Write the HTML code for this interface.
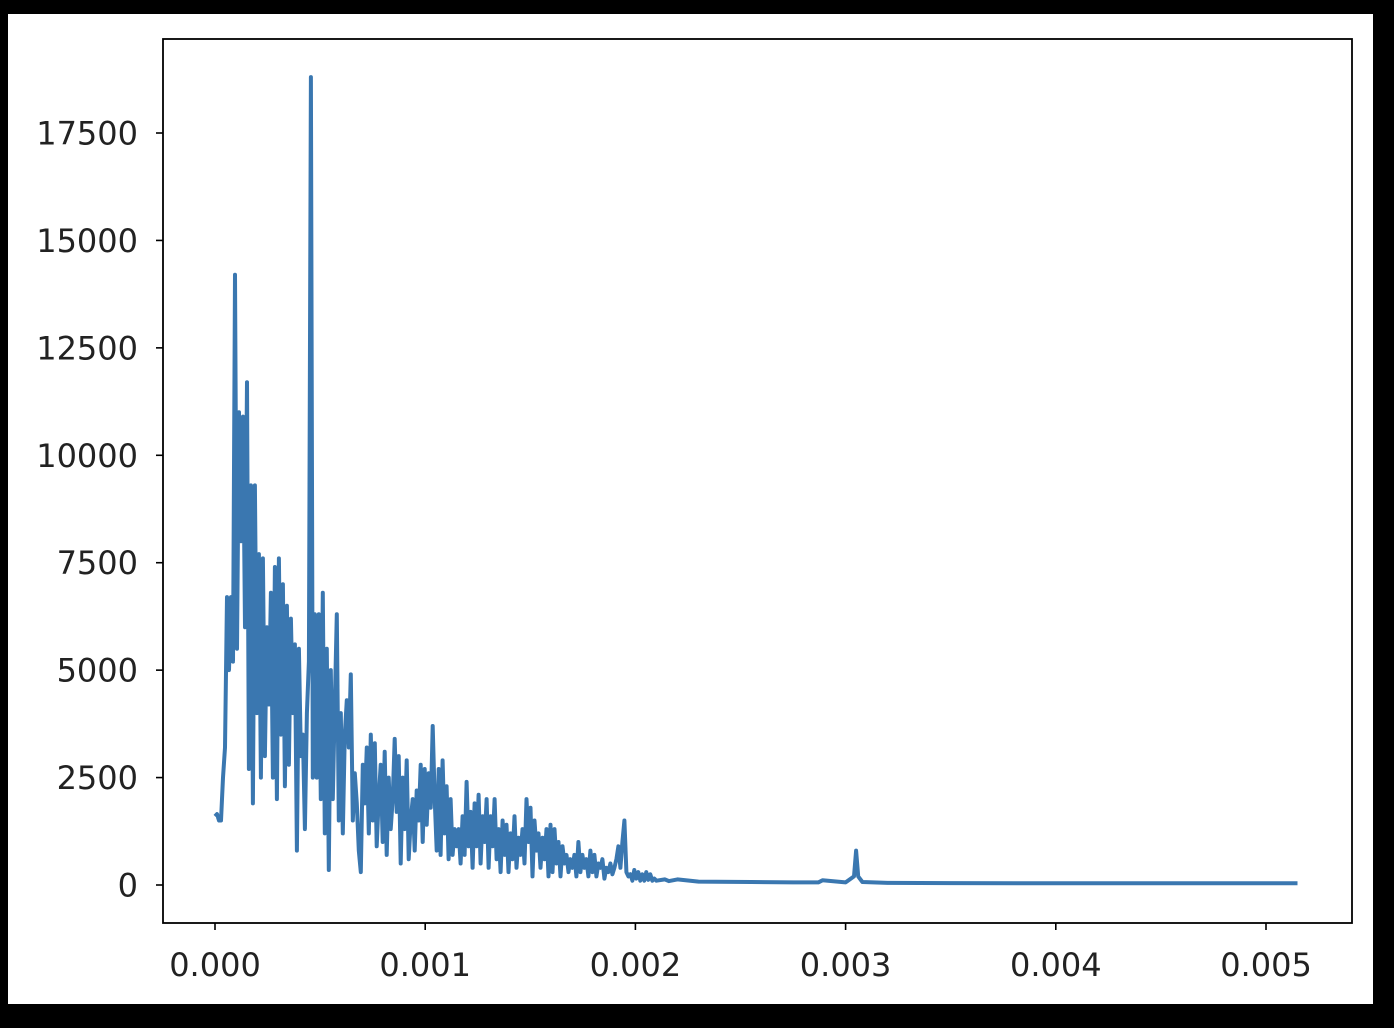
<!DOCTYPE html>
<html><head><meta charset="utf-8"><style>
html,body{margin:0;padding:0;background:#000;}
svg{display:block;}
svg text{font-family:"DejaVu Sans","Liberation Sans",sans-serif;font-size:32px;fill:#222;}
</style></head><body>
<svg id="chart" width="1394" height="1028" viewBox="0 0 1394 1028">
<rect x="8" y="14" width="1365" height="990" fill="#fff"/>
<rect x="163" y="39" width="1189" height="884" fill="#fff"/>
<g id="series"></g>
<rect x="163" y="39" width="1189" height="884" fill="none" stroke="#000" stroke-width="1.8"/>
<g id="xaxis"></g>
<g id="yaxis"></g>
</svg>
<script>
const xTicks = [0, 0.001, 0.002, 0.003, 0.004, 0.005];
const xTickLabels = ["0.000","0.001","0.002","0.003","0.004","0.005"];
const yTicks = [0, 2500, 5000, 7500, 10000, 12500, 15000, 17500];
const yTickLabels = ["0","2500","5000","7500","10000","12500","15000","17500"];
const gridStep = 0.0000095;
const gridValues = [1600,1650,1500,1500,2500,3200,6700,5000,6700,5200,14200,5500,11000,8000,10900,6000,11700,2700,9300,1900,
9300,4000,7700,2500,7600,3000,6000,4200,6800,2500,7400,2000,7600,3500,7000,2300,6500,2800,6200,4000,
5600,800,5500,3000,3500,1300,4000,5200,18800,2500,6300,2500,6300,2000,6800,1200,5500,350,5000,2000,
4200,6300,1500,4000,1200,3500,4300,3200,4900,1500,2600,1900,800,300,2800,1900,3200,1200,3500,1500,
3300,900,2000,2800,1000,3100,700,2500,1300,2000,3400,1700,3000,500,2500,1300,2900,600,1500,2000,
800,2200,1500,2800,1000,2700,1400,2600,1800,3700,2000,800,2700,700,2900,1200,2300,600,2000,700,
1300,900,1300,500,1600,700,2400,900,1700,400,1900,900,2100,500,1600,1000,2000,400,1600,900,
2000,600,1300,300,1500,700,1400,300,1200,600,1600,400,1100,700,1300,500,2000,1000,1800,200,
1500,800,1200,400,1100,600,1300,200,1400,300,1300,500,1000,200,900,500,700,300,600,400,
700,200,1000,300,700,400,600,200,800,300,700,200,500,400,600,150,400,300,500,250,
400,600,900,400,1000,1500,300,200,250,100,350,150,300,100,250,100,300,120,250,100,150];
const tailX = [0.00210,0.00214,0.00216,0.00220,0.00230,0.00255,0.00275,0.00287,0.00289,0.00300,0.00304,0.00305,0.00306,0.00308,0.00320,0.00350,0.00400,0.00450,0.00515];
const tailY = [100,130,90,130,80,70,60,60,110,60,200,800,200,70,50,45,40,40,40];

const X0=215, XS=210200, Y0=885, YS=0.042971;
const sx = v => X0 + v*XS;
const sy = v => Y0 - v*YS;
const NS = 'http://www.w3.org/2000/svg';

let pts = [];
gridValues.forEach((v,i)=>pts.push([sx(i*gridStep), sy(v)]));
tailX.forEach((x,i)=>pts.push([sx(x), sy(tailY[i])]));
const path = document.createElementNS(NS,'path');
path.setAttribute('d', pts.map((p,i)=>(i?'L':'M')+p[0].toFixed(1)+','+p[1].toFixed(1)).join(''));
path.setAttribute('fill','none');
path.setAttribute('stroke','#3a77b0');
path.setAttribute('stroke-width','4');
path.setAttribute('stroke-linejoin','round');


document.getElementById('series').appendChild(path);

const xg = document.getElementById('xaxis');
xTicks.forEach((t,i)=>{
  const l = document.createElementNS(NS,'line');
  l.setAttribute('x1',sx(t)); l.setAttribute('x2',sx(t));
  l.setAttribute('y1',923); l.setAttribute('y2',930);
  l.setAttribute('stroke','#000'); l.setAttribute('stroke-width','1.6');
  
  
  xg.appendChild(l);
  const tx = document.createElementNS(NS,'text');
  tx.setAttribute('x',sx(t)); tx.setAttribute('y',976);
  tx.setAttribute('text-anchor','middle');
  tx.textContent = xTickLabels[i];
  
  
  xg.appendChild(tx);
});
const yg = document.getElementById('yaxis');
yTicks.forEach((t,i)=>{
  const l = document.createElementNS(NS,'line');
  l.setAttribute('x1',156); l.setAttribute('x2',163);
  l.setAttribute('y1',sy(t)); l.setAttribute('y2',sy(t));
  l.setAttribute('stroke','#000'); l.setAttribute('stroke-width','1.6');
  
  
  yg.appendChild(l);
  const tx = document.createElementNS(NS,'text');
  tx.setAttribute('x',138); tx.setAttribute('y',sy(t)+11.5);
  tx.setAttribute('text-anchor','end');
  tx.textContent = yTickLabels[i];
  
  
  yg.appendChild(tx);
});
</script>
</body></html>
